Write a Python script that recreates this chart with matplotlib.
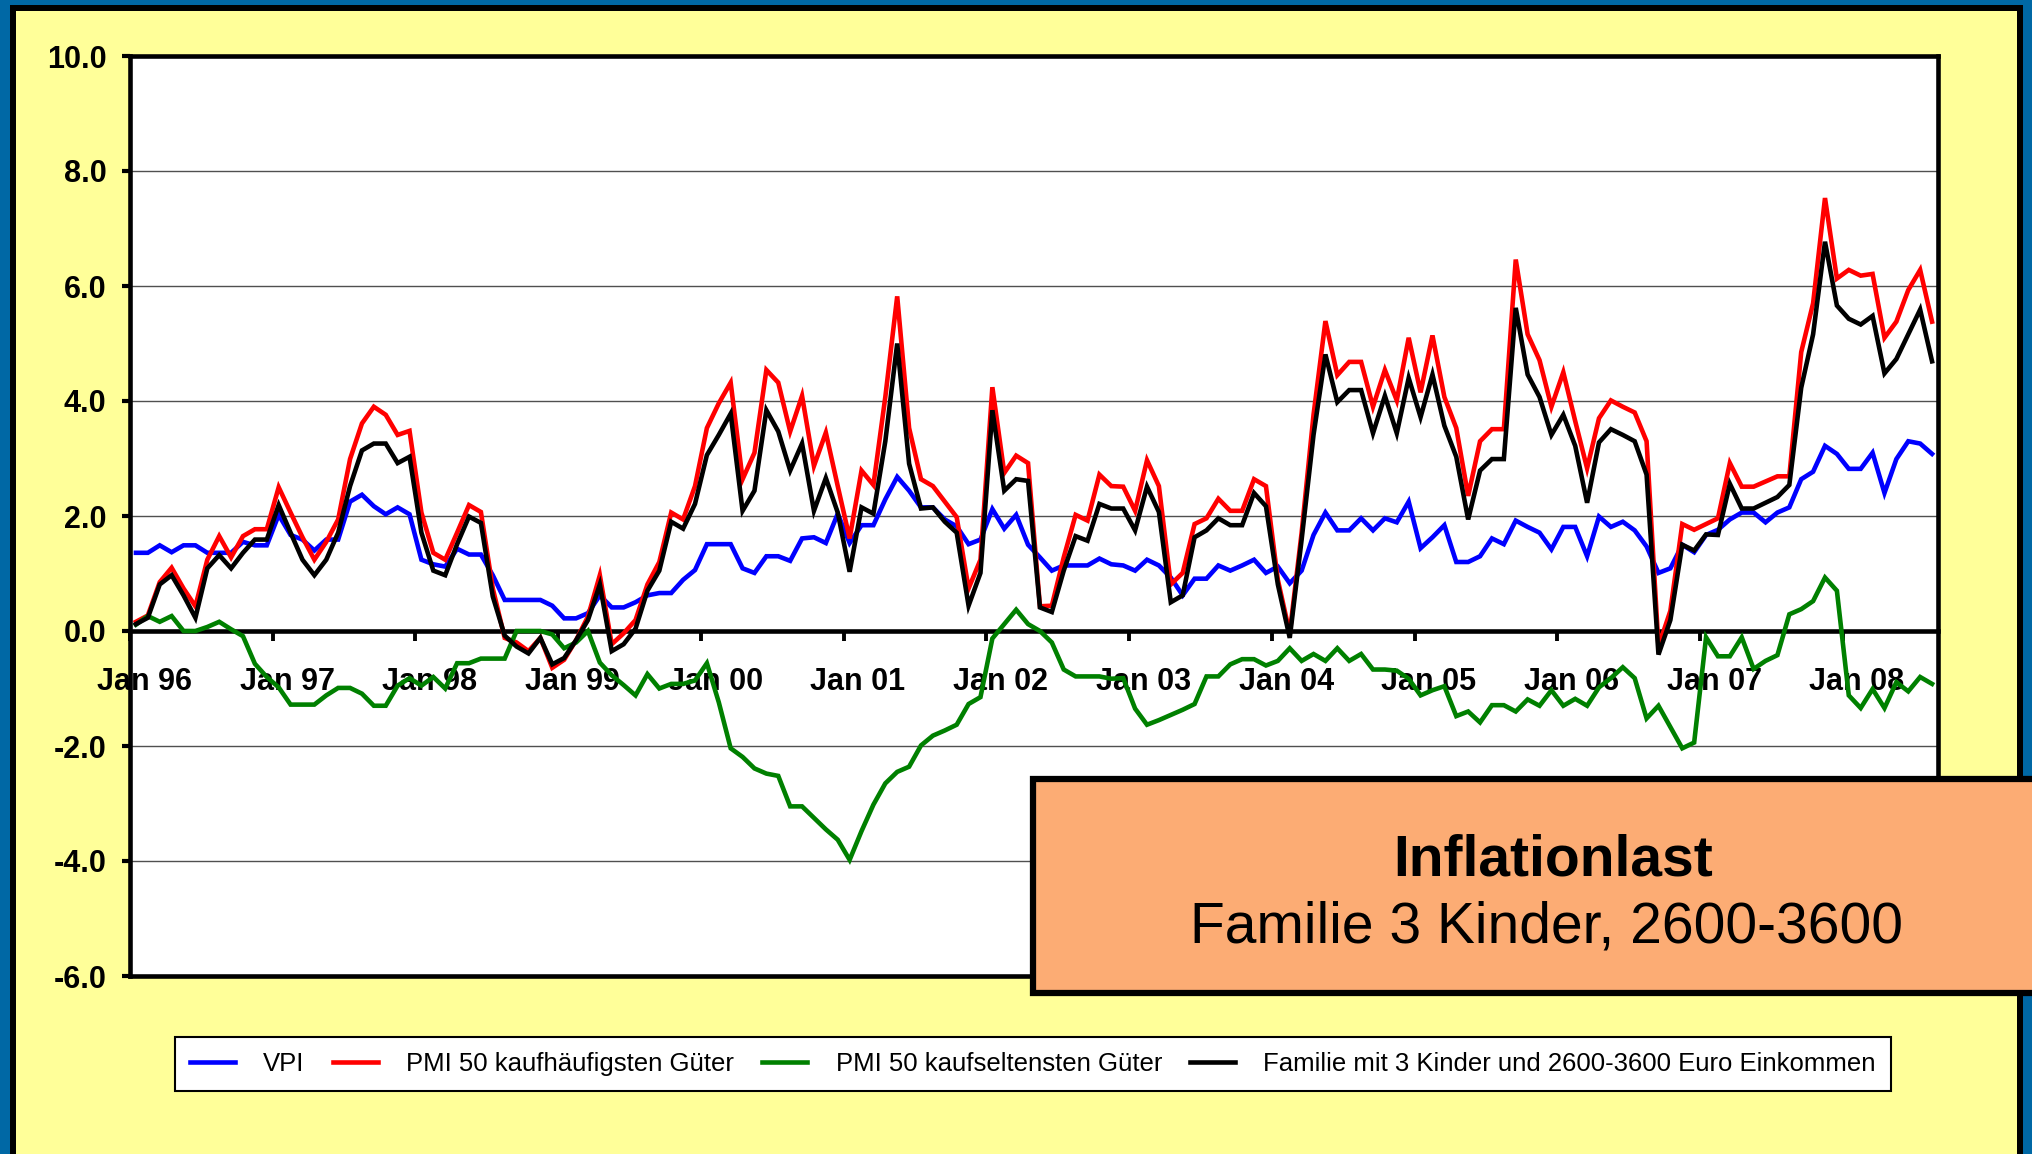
import numpy as np
import matplotlib
matplotlib.use('Agg')
import matplotlib.pyplot as plt
from matplotlib.patches import Rectangle

W, H = 2033, 1154
plt.rcParams['font.family'] = ['Liberation Sans', 'DejaVu Sans']
plt.rcParams['axes.unicode_minus'] = False

# ---------------- data (monthly, Jan 96 .. Aug 08) ----------------
years = ['Jan 96', 'Jan 97', 'Jan 98', 'Jan 99', 'Jan 00', 'Jan 01', 'Jan 02',
         'Jan 03', 'Jan 04', 'Jan 05', 'Jan 06', 'Jan 07', 'Jan 08']

vpi = [1.36, 1.36, 1.49, 1.37, 1.49, 1.49, 1.36, 1.36, 1.36, 1.55, 1.49, 1.49,
       2.02, 1.67, 1.59, 1.40, 1.59, 1.59, 2.25, 2.37, 2.17, 2.03, 2.15, 2.03,
       1.24, 1.16, 1.12, 1.43, 1.33, 1.33, 0.97, 0.54, 0.54, 0.54, 0.54, 0.44,
       0.22, 0.22, 0.31, 0.62, 0.41, 0.41, 0.50, 0.62, 0.66, 0.66, 0.89, 1.06,
       1.51, 1.51, 1.51, 1.09, 1.01, 1.30, 1.30, 1.22, 1.61, 1.63, 1.53, 2.04,
       1.53, 1.84, 1.84, 2.29, 2.68, 2.44, 2.15, 2.15, 1.94, 1.82, 1.51, 1.59,
       2.12, 1.78, 2.02, 1.50, 1.28, 1.05, 1.14, 1.14, 1.14, 1.26, 1.16, 1.14,
       1.05, 1.24, 1.14, 0.93, 0.62, 0.91, 0.91, 1.14, 1.05, 1.14, 1.24, 1.01,
       1.12, 0.83, 1.05, 1.67, 2.06, 1.75, 1.75, 1.96, 1.75, 1.96, 1.89, 2.25,
       1.44, 1.63, 1.84, 1.20, 1.20, 1.30, 1.61, 1.51, 1.92, 1.81, 1.71, 1.42,
       1.81, 1.81, 1.30, 1.99, 1.81, 1.90, 1.75, 1.47, 1.01, 1.09, 1.50, 1.37,
       1.67, 1.76, 1.94, 2.06, 2.06, 1.89, 2.06, 2.15, 2.64, 2.77, 3.22, 3.08,
       2.82, 2.82, 3.10, 2.40, 2.99, 3.30, 3.26, 3.08]

pmi_haeufig = [0.16, 0.27, 0.85, 1.10, 0.74, 0.43, 1.24, 1.65, 1.28, 1.65, 1.77, 1.77,
               2.50, 2.06, 1.63, 1.24, 1.55, 1.94, 2.99, 3.61, 3.90, 3.76, 3.41, 3.48,
               2.06, 1.36, 1.24, 1.71, 2.19, 2.07, 0.74, -0.12, -0.20, -0.35, -0.12, -0.64,
               -0.50, -0.16, 0.25, 0.97, -0.23, -0.04, 0.19, 0.81, 1.20, 2.06, 1.94, 2.52,
               3.53, 3.96, 4.32, 2.64, 3.10, 4.54, 4.32, 3.47, 4.09, 2.87, 3.45, 2.52,
               1.61, 2.79, 2.54, 4.07, 5.82, 3.53, 2.64, 2.52, 2.25, 1.98, 0.74, 1.24,
               4.24, 2.75, 3.05, 2.92, 0.43, 0.44, 1.28, 2.02, 1.92, 2.72, 2.52, 2.51,
               2.09, 2.97, 2.52, 0.81, 1.01, 1.86, 1.96, 2.30, 2.09, 2.09, 2.64, 2.52,
               0.89, -0.04, 1.71, 3.76, 5.39, 4.45, 4.68, 4.68, 3.90, 4.54, 4.01, 5.10,
               4.15, 5.14, 4.07, 3.53, 2.35, 3.30, 3.51, 3.51, 6.46, 5.16, 4.71, 3.90,
               4.50, 3.65, 2.83, 3.70, 4.01, 3.90, 3.80, 3.30, -0.27, 0.35, 1.86, 1.76,
               1.86, 1.96, 2.92, 2.51, 2.51, 2.60, 2.69, 2.69, 4.85, 5.70, 7.53, 6.13,
               6.28, 6.18, 6.21, 5.10, 5.38, 5.93, 6.28, 5.38]

pmi_selten = [0.11, 0.26, 0.16, 0.26, 0.00, 0.00, 0.07, 0.16, 0.03, -0.09, -0.57, -0.80,
              -0.98, -1.28, -1.28, -1.28, -1.12, -0.99, -0.99, -1.09, -1.30, -1.30, -0.95, -0.82,
              -0.95, -0.80, -1.00, -0.56, -0.56, -0.48, -0.48, -0.48, 0.00, 0.00, 0.00, -0.06,
              -0.30, -0.20, 0.00, -0.55, -0.77, -0.94, -1.12, -0.75, -1.00, -0.92, -0.92, -0.86,
              -0.56, -1.24, -2.04, -2.19, -2.39, -2.48, -2.52, -3.05, -3.05, -3.25, -3.45, -3.63,
              -3.98, -3.48, -3.02, -2.65, -2.45, -2.36, -1.99, -1.82, -1.73, -1.63, -1.27, -1.15,
              -0.13, 0.12, 0.37, 0.12, 0.00, -0.20, -0.67, -0.79, -0.79, -0.79, -0.83, -0.82,
              -1.35, -1.63, -1.55, -1.46, -1.37, -1.27, -0.79, -0.79, -0.58, -0.49, -0.49, -0.60,
              -0.52, -0.30, -0.52, -0.40, -0.52, -0.30, -0.52, -0.40, -0.67, -0.67, -0.69, -0.83,
              -1.12, -1.03, -0.96, -1.48, -1.40, -1.59, -1.29, -1.29, -1.40, -1.19, -1.30, -1.03,
              -1.30, -1.18, -1.30, -0.98, -0.82, -0.63, -0.82, -1.52, -1.30, -1.67, -2.04, -1.94,
              -0.11, -0.44, -0.44, -0.11, -0.66, -0.52, -0.42, 0.29, 0.38, 0.52, 0.93, 0.70,
              -1.12, -1.34, -1.01, -1.34, -0.89, -1.05, -0.80, -0.92]

familie = [0.12, 0.23, 0.81, 0.97, 0.62, 0.23, 1.09, 1.32, 1.09, 1.36, 1.59, 1.59,
           2.19, 1.71, 1.24, 0.97, 1.24, 1.71, 2.52, 3.14, 3.26, 3.26, 2.92, 3.03,
           1.71, 1.05, 0.97, 1.51, 1.99, 1.88, 0.60, -0.08, -0.27, -0.39, -0.12, -0.58,
           -0.47, -0.16, 0.19, 0.81, -0.35, -0.23, 0.04, 0.70, 1.05, 1.90, 1.78, 2.21,
           3.06, 3.41, 3.78, 2.09, 2.44, 3.84, 3.47, 2.79, 3.26, 2.09, 2.66, 2.06,
           1.03, 2.15, 2.04, 3.30, 5.00, 2.91, 2.13, 2.15, 1.90, 1.71, 0.44, 1.01,
           3.84, 2.44, 2.64, 2.61, 0.41, 0.33, 1.05, 1.65, 1.57, 2.21, 2.13, 2.13,
           1.75, 2.51, 2.07, 0.50, 0.62, 1.63, 1.75, 1.96, 1.84, 1.84, 2.40, 2.17,
           0.81, -0.12, 1.59, 3.41, 4.81, 3.98, 4.19, 4.19, 3.44, 4.09, 3.44, 4.40,
           3.72, 4.46, 3.57, 3.03, 1.94, 2.79, 2.99, 2.99, 5.62, 4.46, 4.07, 3.41,
           3.76, 3.22, 2.23, 3.28, 3.51, 3.41, 3.30, 2.72, -0.41, 0.19, 1.50, 1.40,
           1.68, 1.67, 2.56, 2.13, 2.13, 2.23, 2.33, 2.54, 4.23, 5.16, 6.77, 5.66,
           5.43, 5.33, 5.48, 4.48, 4.73, 5.16, 5.59, 4.69]

series_labels = ['VPI', 'PMI 50 kaufhäufigsten Güter', 'PMI 50 kaufseltensten Güter',
                 'Familie mit 3 Kinder und 2600-3600 Euro Einkommen']
series_colors = ['#0000FF', '#FF0000', '#008000', '#000000']

y_ticks = [10, 8, 6, 4, 2, 0, -2, -4, -6]
y_labels = ['10.0', '8.0', '6.0', '4.0', '2.0', '0.0', '-2.0', '-4.0', '-6.0']

title_bold = 'Inflationlast'
title_sub = 'Familie 3 Kinder, 2600-3600'

# ---------------- figure ----------------
fig = plt.figure(figsize=(W / 100, H / 100), dpi=100)
fig.patch.set_facecolor('#0068A5')


def fx(x):
    return x / W


def fy(y):
    return 1 - y / H


def prect(x0, y0, x1, y1, **kw):
    return Rectangle((fx(x0), fy(y1)), fx(x1) - fx(x0), fy(y0) - fy(y1),
                     transform=fig.transFigure, **kw)


fig.add_artist(prect(10, 5, 2023, 1250, facecolor='black', edgecolor='none', zorder=-3))
fig.add_artist(prect(16, 11, 2017, 1250, facecolor='#FFFF99', edgecolor='none', zorder=-2))

ax = fig.add_axes([fx(130), fy(976), fx(1938) - fx(130), fy(56) - fy(976)])
ax.set_facecolor('white')

n = len(vpi)
x = np.arange(n) + 0.5
for vals, lab, col in zip([vpi, pmi_haeufig, pmi_selten, familie], series_labels, series_colors):
    ax.plot(x, vals, color=col, lw=3.3, label=lab, solid_joinstyle='miter', zorder=3)

ax.set_xlim(0, n)
ax.set_ylim(-6, 10)

# y axis
ax.set_yticks(y_ticks)
ax.set_yticklabels(y_labels, fontsize=22, fontweight='bold')
ax.tick_params(axis='y', direction='out', length=6, width=3, pad=11, colors='black')
ax.yaxis.grid(True, color='#505050', lw=1.0)
ax.set_axisbelow(True)

# x axis at zero
ax.spines['bottom'].set_position(('data', 0))
for s in ['left', 'right', 'top', 'bottom']:
    ax.spines[s].set_linewidth(3.3)
    ax.spines[s].set_color('black')
ax.axhline(-6, color='black', lw=3.3, clip_on=False, zorder=6)

major = np.arange(0, n, 12)
ax.set_xticks(major)
ax.set_xticklabels([''] * len(major))
ax.set_xticks(major + 1.2, minor=True)
ax.set_xticklabels(years, minor=True, fontsize=22, fontweight='bold')
ax.tick_params(axis='x', which='major', direction='out', length=7, width=2.8)
ax.tick_params(axis='x', which='minor', length=0, pad=26)

# legend
handles, labels = ax.get_legend_handles_labels()
leg = fig.legend(handles, labels, loc='center', bbox_to_anchor=(fx(1033), fy(1064)),
                 ncol=4, fontsize=18.5, frameon=True, fancybox=False, edgecolor='black',
                 facecolor='white', framealpha=1, handlelength=1.75, handletextpad=1.1,
                 columnspacing=1.1, borderpad=0.6)
leg.get_frame().set_linewidth(1.5)

# annotation box
fig.add_artist(prect(1033, 779, 2060, 993, facecolor='#FCAC74', edgecolor='black',
                     lw=4.5, zorder=10))
fig.text(fx(1553), fy(875), title_bold, ha='center', va='baseline', fontsize=41,
         fontweight='bold', zorder=11)
fig.text(fx(1546), fy(943), title_sub, ha='center', va='baseline', fontsize=41, zorder=11)

fig.savefig('out.png', dpi=100, facecolor=fig.get_facecolor())
